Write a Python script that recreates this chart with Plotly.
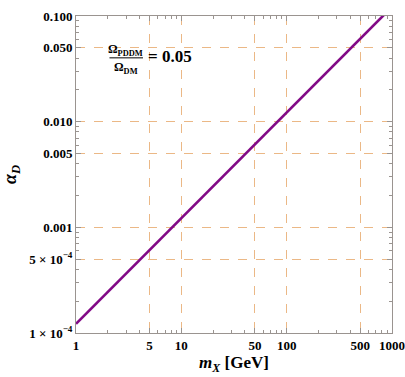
import plotly.graph_objects as go

# data
m_x = [1, 10, 100, 1000]
alpha_d = [1.22e-4, 1.22e-3, 1.22e-2, 1.22e-1]

x_tickvals = [1, 5, 10, 50, 100, 500, 1000]
x_ticktext = ["1", "5", "10", "50", "100", "500", "1000"]
y_tickvals = [1e-4, 5e-4, 1e-3, 5e-3, 1e-2, 5e-2, 1e-1]
y_ticktext = ["1 × 10<sup>−4</sup>", "5 × 10<sup>−4</sup>", "0.001", "0.005",
              "0.010", "0.050", "0.100"]

x_minor = [2, 3, 4, 6, 7, 8, 9, 20, 30, 40, 60, 70, 80, 90, 200, 300, 400, 600, 700, 800, 900]
y_minor = [2e-4, 3e-4, 4e-4, 6e-4, 7e-4, 8e-4, 9e-4, 2e-3, 3e-3, 4e-3, 6e-3, 7e-3, 8e-3,
           9e-3, 2e-2, 3e-2, 4e-2, 6e-2, 7e-2, 8e-2, 9e-2]

font = "Liberation Serif"
grid_col = "#ebb886"
frame_col = "#9a9490"

fig = go.Figure()
fig.add_trace(go.Scatter(x=m_x, y=alpha_d, mode="lines",
                         line=dict(color="#820a86", width=2.6)))

axis_common = dict(
    type="log", automargin=False,
    showline=True, linecolor=frame_col, linewidth=1, mirror="allticks",
    ticks="inside", ticklen=5, tickcolor=frame_col,
    showgrid=True, gridcolor=grid_col, griddash="dash", gridwidth=1,
    zeroline=False, layer="below traces",
    tickfont=dict(family=font, size=13, color="black", weight="bold"),
)

fig.update_layout(
    width=405, height=377,
    margin=dict(l=76, r=13, t=16, b=44, autoexpand=False),
    paper_bgcolor="white", plot_bgcolor="white",
    showlegend=False,
    xaxis=dict(
        axis_common, range=[0, 3],
        tickmode="array", tickvals=x_tickvals, ticktext=x_ticktext,
        minor=dict(tickmode="array", tickvals=x_minor, ticks="inside", ticklen=3,
                   tickcolor=frame_col, showgrid=False, gridcolor=grid_col),
        title=dict(text="<b><i>m<sub>X</sub></i> [GeV]</b>", standoff=4,
                   font=dict(family=font, size=17, color="black")),
    ),
    yaxis=dict(
        axis_common, range=[-4, -1],
        tickmode="array", tickvals=y_tickvals, ticktext=y_ticktext,
        minor=dict(tickmode="array", tickvals=y_minor, ticks="inside", ticklen=3,
                   tickcolor=frame_col, showgrid=False, gridcolor=grid_col),
        title=dict(text="<b><i>α<sub>D</sub></i></b>", standoff=8,
                   font=dict(family=font, size=18, color="black")),
    ),
)

# ratio label
label_font = dict(family=font, size=12, color="black")
fig.add_annotation(xref="paper", yref="paper", x=0.158, y=0.893,
                   xanchor="center", yanchor="middle",
                   text="<b>Ω<sub>PDDM</sub></b>", showarrow=False, font=label_font)
fig.add_annotation(xref="paper", yref="paper", x=0.158, y=0.836,
                   xanchor="center", yanchor="middle",
                   text="<b>Ω<sub>DM</sub></b>", showarrow=False, font=label_font)
fig.add_annotation(xref="paper", yref="paper", x=0.297, y=0.871,
                   xanchor="center", yanchor="middle",
                   text="<b>= 0.05</b>", showarrow=False,
                   font=dict(family=font, size=17, color="black"))
fig.add_shape(type="line", xref="paper", yref="paper", x0=0.106, x1=0.212,
              y0=0.868, y1=0.868, line=dict(color="black", width=1))

fig.write_html("out.html", config={"displayModeBar": False},
               post_script="document.body.style.margin='0';")
